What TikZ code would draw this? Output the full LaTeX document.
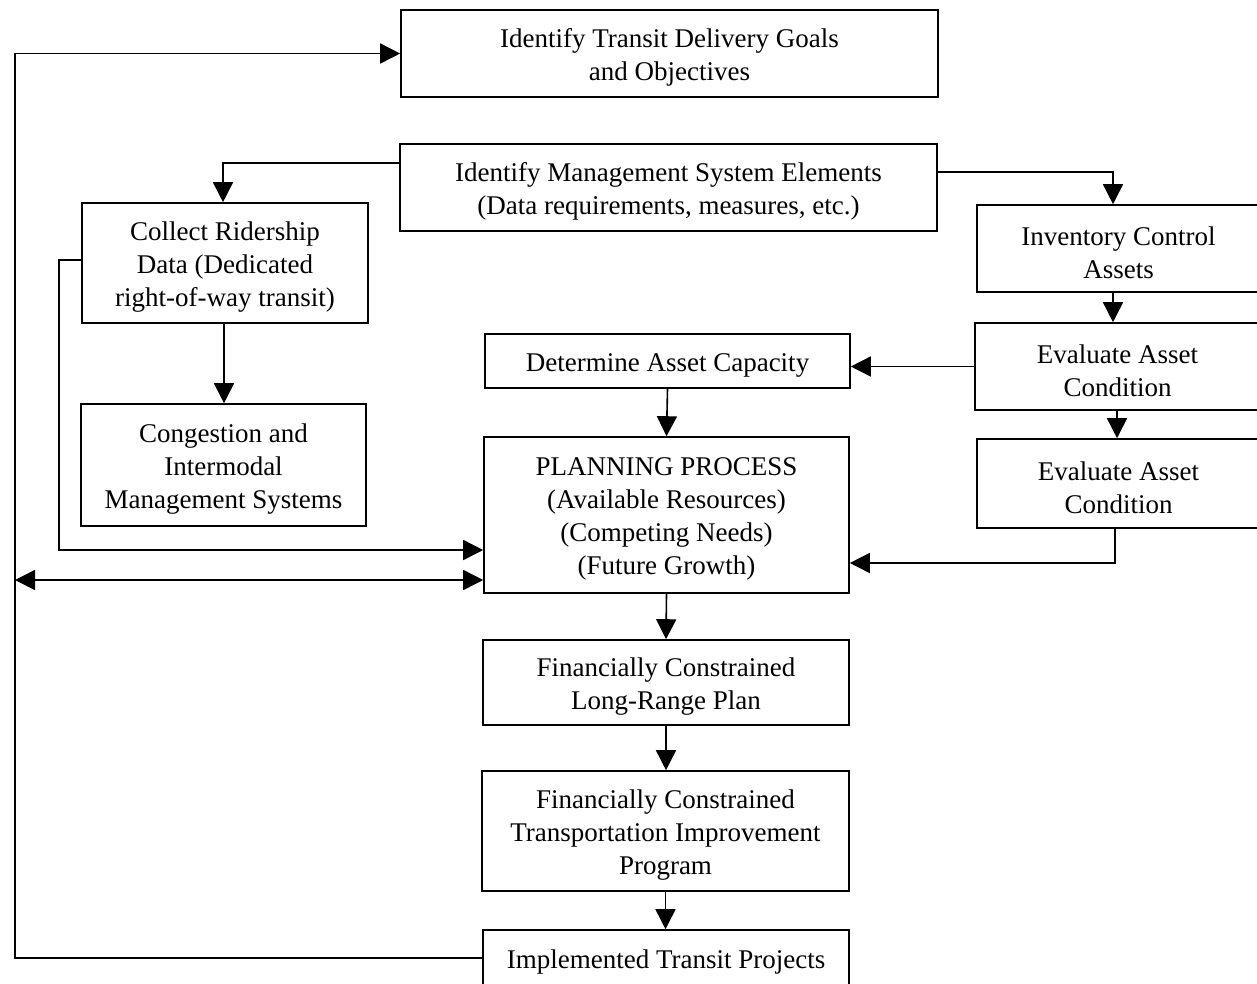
\documentclass[tikz,border=0pt]{standalone}
\usepackage{fontspec}
\setmainfont{Liberation Serif}
\usetikzlibrary{arrows.meta}
\begin{document}
\begin{tikzpicture}[x=1pt,y=-1pt,
  box/.style={draw,line width=1.6pt,rectangle,inner sep=0pt},
  txt/.style={align=center,inner sep=0pt,yshift=-4pt,
    font=\fontsize{27}{33}\selectfont},
  conn/.style={line width=1.6pt},
  arr/.style={conn,-{Triangle[length=20pt,width=20pt]}},
  darr/.style={conn,{Triangle[length=20pt,width=20pt]}-{Triangle[length=20pt,width=20pt]}}]
\useasboundingbox (0,0) rectangle (1257,983);
\fill[white] (0,0) rectangle (1257,983);

% boxes, each with its centred text as a label
\node[box,minimum width=537pt,minimum height=87pt,
  label={[txt]center:{Identify Transit Delivery Goals\\and Objectives}}] (goals) at (669.5,53.5) {};
\node[box,minimum width=537pt,minimum height=87pt,
  label={[txt]center:{Identify Management System Elements\\(Data requirements, measures, etc.)}}] (mgmt) at (668.5,187.5) {};
\node[box,minimum width=286pt,minimum height=120pt,
  label={[txt]center:{Collect Ridership\\Data (Dedicated\\right-of-way transit)}}] (coll) at (225,263) {};
\node[box,minimum width=283pt,minimum height=87pt,
  label={[txt]center:{Inventory Control\\Assets}}] (inv) at (1118.5,248.5) {};
\node[box,minimum width=285pt,minimum height=87pt,
  label={[txt]center:{Evaluate Asset\\Condition}}] (ev1) at (1117.5,366.5) {};
\node[box,minimum width=283pt,minimum height=89pt,
  label={[txt]center:{Evaluate Asset\\Condition}}] (ev2) at (1118.5,483.5) {};
\node[box,minimum width=365pt,minimum height=54pt,
  label={[txt]center:{Determine Asset Capacity}}] (cap) at (667.5,361) {};
\node[box,minimum width=285pt,minimum height=122pt,
  label={[txt]center:{Congestion and\\Intermodal\\Management Systems}}] (cong) at (223.5,465) {};
\node[box,minimum width=365pt,minimum height=156pt,
  label={[txt]center:{PLANNING PROCESS\\(Available Resources)\\(Competing Needs)\\(Future Growth)}}] (plan) at (666.5,515) {};
\node[box,minimum width=366pt,minimum height=85pt,
  label={[txt]center:{Financially Constrained\\Long-Range Plan}}] (lrp) at (666,682.5) {};
\node[box,minimum width=367pt,minimum height=120pt,
  label={[txt]center:{Financially Constrained\\Transportation Improvement\\Program}}] (tip) at (665.5,831) {};
\node[box,minimum width=366pt,minimum height=56pt,
  label={[txt]center:{Implemented Transit Projects}}] (impl) at (666,958) {};

% helper coordinates
\coordinate (loopx) at (15,0);
\coordinate (pw1) at ([yshift=-35pt]plan.west);
\coordinate (pw2) at ([yshift=-65pt]plan.west);
\coordinate (pe1) at ([yshift=-48pt]plan.east);

% connectors
\draw[arr] (impl.west) -| (loopx |- goals.west) -- (goals.west);
\draw[arr] ([yshift=24.5pt]mgmt.west) -| ([xshift=-2pt]coll.north);
\draw[arr] ([yshift=15.5pt]mgmt.east) -| ([xshift=-5.5pt]inv.north);
\draw[arr] ([xshift=-5.5pt]inv.south) -- ([xshift=-4.5pt]ev1.north);
\draw[arr] ([xshift=-0.5pt]ev1.south) -- ([xshift=-1.5pt]ev2.north);
\draw[arr] (ev1.west) -- (ev1.west -| cap.east);
\draw[arr] ([xshift=-3.5pt]ev2.south) |- (pe1);
\draw[arr] (cap.south) -- (plan.north);
\draw[arr] ([xshift=-1pt]coll.south) -- ([xshift=0.5pt]cong.north);
\draw[arr] ([yshift=3pt]coll.west) -- ++(-22,0) |- (pw1);
\draw[darr] (loopx |- pw2) -- (pw2);
\draw[arr] (plan.south) -- (lrp.north);
\draw[arr] (lrp.south) -- (lrp.south |- tip.north);
\draw[arr] (tip.south) -- (tip.south |- impl.north);
\end{tikzpicture}
\end{document}
